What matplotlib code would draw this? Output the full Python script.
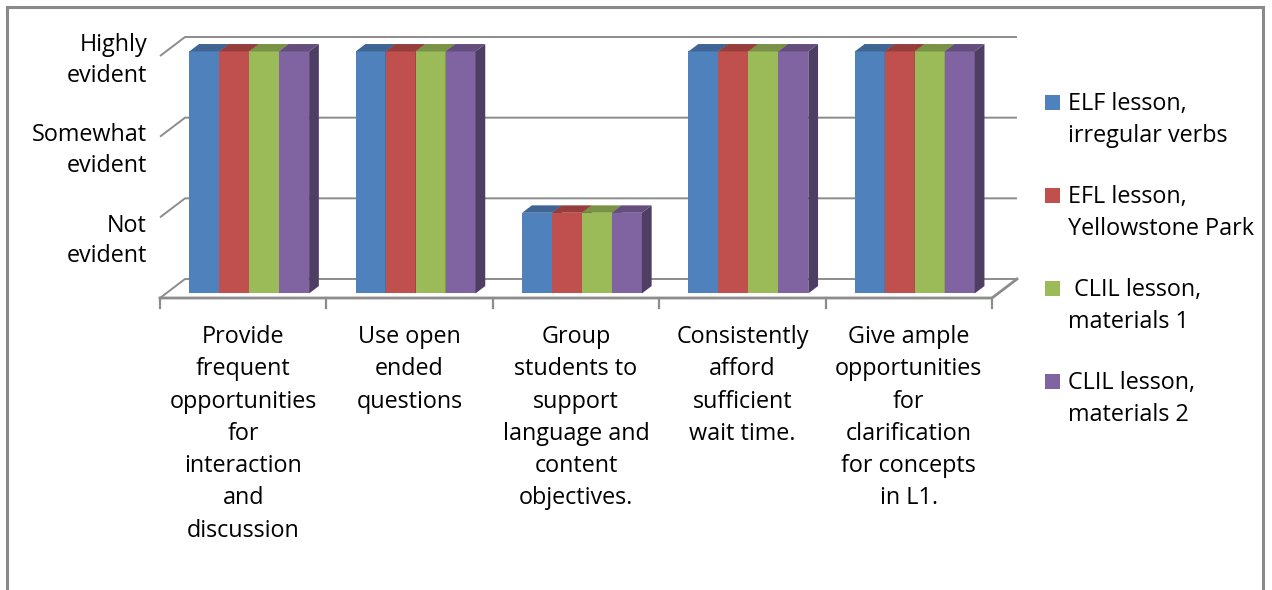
import matplotlib
matplotlib.use("Agg")
import matplotlib.pyplot as plt
from matplotlib.patches import Polygon, Rectangle
from matplotlib.lines import Line2D
from matplotlib.colors import to_rgb

plt.rcParams['font.family'] = ['Open Sans', 'DejaVu Sans']

# ---- data -------------------------------------------------------------
categories = [
    "Provide\nfrequent\nopportunities\nfor\ninteraction\nand\ndiscussion",
    "Use open\nended\nquestions",
    "Group\nstudents to\nsupport\nlanguage and\ncontent\nobjectives.",
    "Consistently\nafford\nsufficient\nwait time.",
    "Give ample\nopportunities\nfor\nclarification\nfor concepts\nin L1.",
]
series_names = [
    "ELF lesson,\nirregular verbs",
    "EFL lesson,\nYellowstone Park",
    " CLIL lesson,\nmaterials 1",
    "CLIL lesson,\nmaterials 2",
]
series_colors = ["#4F81BD", "#C0504D", "#9BBB59", "#8064A2"]

elf_irregular_verbs = [3, 3, 1, 3, 3]
efl_yellowstone = [3, 3, 1, 3, 3]
clil_materials_1 = [3, 3, 1, 3, 3]
clil_materials_2 = [3, 3, 1, 3, 3]
series_values = [elf_irregular_verbs, efl_yellowstone,
                 clil_materials_1, clil_materials_2]

level_values = [3, 2, 1]
level_labels = ["Highly\nevident", "Somewhat\nevident", "Not\nevident"]

# ---- layout -----------------------------------------------------------
W, H = 1272, 590
FS = 16.8
GRID = "#8C8C8C"

fig = plt.figure(figsize=(W / 100, H / 100), dpi=100)
fig.patch.set_facecolor("white")

# axes = the front plane of the floor (x: categories, y: levels)
ax = fig.add_axes([160 / W, (H - 298) / H, 832 / W, 242 / H])
n_cat = len(categories)
ax.set_xlim(0, n_cat)
ax.set_ylim(0, 3)
ax.axis("off")

px_x = 832 / n_cat        # pixels per category
px_y = 242 / 3            # pixels per level
DX, DY = 25 / px_x, 19 / px_y   # oblique depth vector (front -> back wall)


def py2y(py):
    """figure pixel row (from top) -> data y"""
    return (298 - py) / px_y


def shade(c, f):
    r, g, b = to_rgb(c)
    return (r * f, g * f, b * f)


# back wall gridlines with their left-wall diagonals (floor back edge too)
for v in [0] + level_values:
    ax.plot([0, DX, n_cat + DX], [v, v + DY, v + DY], color=GRID, lw=1.4,
            clip_on=False, zorder=1, solid_capstyle="butt")

# floor front edge and right edge
ax.plot([0, n_cat, n_cat + DX], [0, 0, DY], color=GRID, lw=2.0,
        clip_on=False, zorder=1)
# category tick marks
for i in range(n_cat + 1):
    ax.plot([i, i], [0, -10 / px_y], color=GRID, lw=1.6, clip_on=False,
            zorder=1)

# ---- 3-D clustered bars -------------------------------------------------
d0, d1 = 0.24, 0.63          # depth span of the bars
bar_w = 0.18
gap = (1 - bar_w * len(series_values)) / 2
for j, (vals, col) in enumerate(zip(series_values, series_colors)):
    z = 3 + j
    xs = [i + gap + j * bar_w + d0 * DX for i in range(n_cat)]
    ax.bar(xs, vals, width=bar_w, bottom=d0 * DY, align="edge",
           color=col, lw=0, zorder=z, clip_on=False)
    for x0, v in zip(xs, vals):
        x1 = x0 + bar_w
        top = v + d0 * DY
        ddx, ddy = (d1 - d0) * DX, (d1 - d0) * DY
        ax.add_patch(Polygon([(x0, top), (x1, top), (x1 + ddx, top + ddy),
                              (x0 + ddx, top + ddy)], closed=True,
                             facecolor=shade(col, 0.78), lw=0, zorder=z,
                             clip_on=False))
        ax.add_patch(Polygon([(x1, d0 * DY), (x1 + ddx, d0 * DY + ddy),
                              (x1 + ddx, top + ddy), (x1, top)], closed=True,
                             facecolor=shade(col, 0.62), lw=0, zorder=z,
                             clip_on=False))

# ---- category labels ----------------------------------------------------
LINE = 32.3
for i, lab in enumerate(categories):
    for k, line in enumerate(lab.split("\n")):
        ax.text(i + 0.5, py2y(343 + k * LINE), line, ha="center",
                va="baseline", fontsize=FS, clip_on=False)

# ---- level labels -------------------------------------------------------
for n, (v, lab) in enumerate(zip(level_values, level_labels)):
    for k, line in enumerate(lab.split("\n")):
        ax.text(-13 / px_x, py2y(50.7 + n * 90.5 + k * 30.8), line,
                ha="right", va="baseline", fontsize=FS, clip_on=False)

# ---- legend -------------------------------------------------------------
for j, (name, col) in enumerate(zip(series_names, series_colors)):
    base = 110 + j * 93
    fig.add_artist(Rectangle((1045 / W, (H - base) / H), 15 / W, 15 / H,
                             transform=fig.transFigure, facecolor=col, lw=0))
    for k, line in enumerate(name.split("\n")):
        fig.text(1068 / W, (H - (base + k * 31.7)) / H, line, ha="left",
                 va="baseline", fontsize=FS)

# ---- chart border -------------------------------------------------------
for xs_, ys_ in [([7, 7], [7, 590]), ([7, 1263], [7, 7]), ([1263, 1263], [7, 590])]:
    fig.add_artist(Line2D([x / W for x in xs_], [1 - y / H for y in ys_],
                          color="#8A8A8A", lw=2.2))

fig.savefig("out.png", dpi=100, facecolor="white")
